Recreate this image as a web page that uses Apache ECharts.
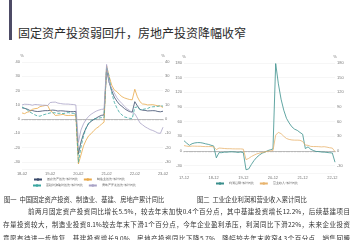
<!DOCTYPE html>
<html>
<head>
<meta charset="utf-8">
<script src="https://cdn.jsdelivr.net/npm/echarts@6/dist/echarts.min.js"></script>
<style>
  html, body { margin: 0; padding: 0; background: #fff; }
  #page { position: relative; width: 355px; height: 240px; overflow: hidden; background: #fff;
          font-family: "Noto Sans CJK SC", "Noto Sans", sans-serif; color: #333; }
  #chart { position: absolute; left: 0; top: 0; width: 355px; height: 240px; }
  .bar { position: absolute; left: 9px; top: 0; width: 3px; height: 40px; background: #4d4b66; }
  .title { position: absolute; left: 18px; top: 25px; font-size: 12px; line-height: 16px; color: #2b2b2b; white-space: nowrap; }
  .cap { position: absolute; top: 196px; font-size: 6.3px; line-height: 8px; white-space: nowrap; color: #333; }
  .para { position: absolute; font-size: 6.5px; line-height: 8px; color: #333; white-space: nowrap;
          text-align: justify; text-align-last: justify; }
</style>
</head>
<body>
<div id="page">
  <div class="bar"></div>
  <div class="title">固定资产投资弱回升，房地产投资降幅收窄</div>
  <div id="chart"></div>
  <div class="cap" style="left:4px">图一&nbsp;&nbsp;中国固定资产投资、制造业、基建、房地产累计同比</div>
  <div class="cap" style="left:197px">图二&nbsp;&nbsp;工业企业利润和营业收入累计同比</div>
  <div class="para" style="left:28px;top:207px;width:322px">前两月固定资产投资同比增长5.5%，较去年末加快0.4个百分点，其中基建投资增长12.2%，后续基建项目</div>
  <div class="para" style="left:3px;top:220px;width:347px">存量投资较大，制造业投资8.1%较去年末下滑1个百分点，今年企业盈利承压，利润同比下滑22%，未来企业投资</div>
  <div class="para" style="left:3px;top:234px;width:347px">意愿有待进一步恢复，基建投资增长9.0%，房地产投资同比下降5.7%，降幅较去年末收窄4.3个百分点，销售回暖</div>
</div>
<script>
// 图一：固定资产投资、制造业、基建、房地产累计同比（%）
const investMonths = [
  '18-02', '18-03', '18-04', '18-05', '18-06', '18-07', '18-08', '18-09', '18-10', '18-11', '18-12',
  '19-02', '19-03', '19-04', '19-05', '19-06', '19-07', '19-08', '19-09', '19-10', '19-11', '19-12',
  '20-02', '20-03', '20-04', '20-05', '20-06', '20-07', '20-08', '20-09', '20-10', '20-11', '20-12',
  '21-02', '21-03', '21-04', '21-05', '21-06', '21-07', '21-08', '21-09', '21-10', '21-11', '21-12',
  '22-02', '22-03', '22-04', '22-05', '22-06', '22-07', '22-08', '22-09', '22-10', '22-11', '22-12',
  '23-02'
]
const faiYoy = [
  7.9, 7.5, 7.0, 6.1, 6.0, 5.5, 5.3, 5.4, 5.7, 5.9, 5.9,
  6.1, 6.3, 6.1, 5.6, 5.8, 5.7, 5.5, 5.4, 5.2, 5.2, 5.4,
  -24.5, -16.1, -10.3, -6.3, -3.1, -1.6, -0.3, 0.8, 1.8, 2.6, 2.9,
  35.0, 25.6, 19.9, 15.4, 12.6, 10.3, 8.9, 7.3, 6.1, 5.2, 4.9,
  12.2, 9.3, 6.8, 6.2, 6.1, 5.7, 5.8, 5.9, 5.8, 5.3, 5.1,
  5.5
]
const mfgYoy = [
  4.3, 3.8, 4.8, 5.2, 6.8, 7.3, 7.5, 8.7, 9.1, 9.5, 9.5,
  5.9, 4.6, 2.5, 2.7, 3.0, 3.3, 2.6, 2.5, 2.6, 2.5, 3.1,
  -31.5, -25.2, -18.8, -14.8, -11.7, -10.2, -8.1, -6.5, -5.3, -3.5, -2.2,
  37.3, 29.8, 23.8, 20.4, 19.2, 17.3, 15.7, 14.8, 14.2, 13.7, 13.5,
  20.9, 15.6, 12.2, 10.6, 10.4, 9.9, 10.0, 10.1, 9.7, 9.3, 9.1,
  8.1
]
const infraYoy = [
  8.5, 7.5, 6.5, 5.0, 4.0, 3.0, 2.2, 2.0, 2.8, 3.3, 3.8,
  4.3, 4.4, 4.4, 4.0, 4.1, 3.8, 4.2, 4.5, 4.2, 4.0, 3.8,
  -30.3, -19.7, -11.8, -6.3, -2.7, -1.0, 0.1, 0.2, 0.7, 1.0, 0.9,
  36.6, 29.7, 18.4, 11.8, 7.8, 4.6, 2.9, 1.5, 1.0, 0.5, 0.4,
  8.1, 8.5, 6.5, 6.7, 7.1, 7.4, 8.3, 8.6, 8.7, 8.9, 9.4,
  9.0
]
const estateYoy = [
  9.9, 10.4, 10.3, 10.2, 9.7, 10.2, 10.1, 9.9, 9.7, 9.7, 9.5,
  11.6, 11.8, 11.9, 11.2, 10.9, 10.6, 10.5, 10.5, 10.3, 10.2, 9.9,
  -16.3, -7.7, -3.3, -0.3, 1.9, 3.4, 4.6, 5.6, 6.3, 6.8, 7.0,
  38.3, 25.6, 21.6, 18.3, 15.0, 12.7, 10.9, 8.8, 7.2, 6.0, 4.4,
  3.7, 0.7, -2.7, -4.0, -5.4, -6.4, -7.4, -8.0, -8.8, -9.8, -10.0,
  -5.7
]

// 图二：工业企业利润总额、营业收入累计同比（%）
const profitMonths = [
  '17-12',
  '18-02', '18-03', '18-04', '18-05', '18-06', '18-07', '18-08', '18-09', '18-10', '18-11', '18-12',
  '19-02', '19-03', '19-04', '19-05', '19-06', '19-07', '19-08', '19-09', '19-10', '19-11', '19-12',
  '20-02', '20-03', '20-04', '20-05', '20-06', '20-07', '20-08', '20-09', '20-10', '20-11', '20-12',
  '21-02', '21-03', '21-04', '21-05', '21-06', '21-07', '21-08', '21-09', '21-10', '21-11', '21-12',
  '22-02', '22-03', '22-04', '22-05', '22-06', '22-07', '22-08', '22-09', '22-10', '22-11', '22-12',
  '23-02'
]
const profitYoy = [
  21.0,
  16.1, 11.6, 15.0, 16.5, 17.2, 17.1, 16.2, 14.7, 13.6, 11.8, 10.3,
  -14.0, -3.3, -3.4, -2.3, -2.4, -1.7, -1.7, -2.1, -2.9, -2.1, -3.3,
  -38.3, -36.7, -27.4, -19.3, -12.8, -8.1, -4.4, -2.4, 0.7, 2.4, 4.1,
  178.9, 137.3, 106.0, 83.4, 66.9, 57.3, 49.5, 44.7, 42.2, 38.0, 34.3,
  5.0, 8.5, 3.5, 1.0, -1.0, -1.1, -2.1, -2.3, -3.0, -3.6, -4.0,
  -22.9
]
const revenueYoy = [
  11.1,
  10.0, 9.3, 10.1, 9.9, 9.7, 9.7, 9.2, 9.0, 9.0, 9.1, 8.5,
  2.9, 6.1, 5.6, 5.1, 4.7, 4.7, 4.4, 4.3, 4.3, 4.3, 3.8,
  -17.7, -15.1, -11.3, -8.4, -5.9, -4.3, -3.1, -1.9, -0.6, 0.1, 0.8,
  32.5, 38.1, 35.5, 30.1, 25.6, 23.6, 22.6, 22.2, 22.2, 21.9, 19.4,
  12.1, 11.6, 9.4, 9.1, 9.1, 8.8, 8.4, 8.8, 7.9, 6.7, 5.9,
  -1.3
]

const chart = echarts.init(document.getElementById('chart'))

const labelColor = '#777'
const gridColor = '#ececec'
const axisColor = '#9a9a9a'

// 数值轴：只显示整十/整三十的标签
const valueAxis = (gridIndex, position, min, max, splitNumber, step) => ({
  type: 'value',
  gridIndex,
  position,
  min,
  max,
  splitNumber,
  name: '%',
  nameLocation: 'end',
  nameGap: 4,
  nameTextStyle: { fontSize: 4, color: labelColor, padding: 0 },
  axisLine: { show: false },
  axisTick: { show: false },
  minorTick: { show: false },
  axisLabel: {
    fontSize: 4,
    color: labelColor,
    margin: 2,
    formatter: v => (v % step === 0 ? String(v) : '')
  },
  splitLine: { show: position === 'left', lineStyle: { color: gridColor, width: 0.5 } }
})

const categoryAxis = (gridIndex, data) => ({
  type: 'category',
  gridIndex,
  data,
  boundaryGap: false,
  axisLine: { lineStyle: { color: axisColor, width: 0.6 } },
  axisTick: { show: true, interval: 0, length: 1.5, lineStyle: { color: axisColor, width: 0.4 } },
  axisLabel: { interval: 10, fontSize: 4, color: labelColor, margin: 3 }
})

const lineSeries = (name, data, color, xi, yi, dashed) => ({
  name,
  type: 'line',
  xAxisIndex: xi,
  yAxisIndex: yi,
  data,
  symbol: 'none',
  clip: false,
  lineStyle: { color, width: 0.8, type: dashed ? 'dashed' : 'solid' },
  itemStyle: { color }
})

const legendText = { fontSize: 3, color: '#555' }

const option = {
  animation: false,
  grid: [
    { left: 22, top: 62, width: 141, height: 107 },
    { left: 184, top: 63, width: 151, height: 110 }
  ],
  xAxis: [
    categoryAxis(0, investMonths),
    categoryAxis(1, profitMonths)
  ],
  yAxis: [
    valueAxis(0, 'left', -35, 40, 7, 10),
    valueAxis(0, 'right', -35, 40, 7, 10),
    valueAxis(1, 'left', -45, 180, 7, 30),
    valueAxis(1, 'right', -45, 180, 7, 30)
  ],
  legend: [
    {
      data: ['固定资产投资:累计同比', '制造业投资:累计同比'],
      left: 33, top: 178, itemWidth: 8, itemHeight: 3, itemGap: 5, padding: 0,
      textStyle: legendText
    },
    {
      data: ['基础设施建设投资:累计同比', '房地产开发投资:累计同比'],
      left: 32, top: 184, itemWidth: 8, itemHeight: 3, itemGap: 5, padding: 0,
      textStyle: legendText
    },
    {
      data: ['利润总额:累计同比', '营业收入:累计同比'],
      left: 215, top: 182, itemWidth: 8, itemHeight: 3, itemGap: 5, padding: 0,
      textStyle: legendText
    }
  ],
  series: [
    lineSeries('固定资产投资:累计同比', faiYoy, '#3a4a6b', 0, 0, false),
    lineSeries('制造业投资:累计同比', mfgYoy, '#e9a94a', 0, 0, false),
    lineSeries('基础设施建设投资:累计同比', infraYoy, '#3aa6a0', 0, 0, true),
    lineSeries('房地产开发投资:累计同比', estateYoy, '#a9a3c6', 0, 0, false),
    lineSeries('利润总额:累计同比', profitYoy, '#3a8f8c', 1, 2, false),
    lineSeries('营业收入:累计同比', revenueYoy, '#e8b46e', 1, 2, false)
  ]
}

chart.setOption(option)
</script>
</body>
</html>
